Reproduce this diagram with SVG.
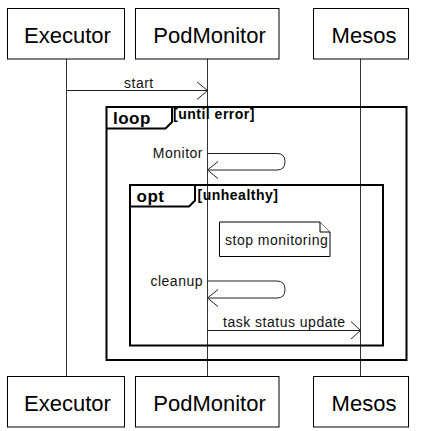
<svg xmlns="http://www.w3.org/2000/svg" width="432" height="431" viewBox="0 0 432 431">
<style>
.box{fill:#fff;stroke:#000;stroke-width:1}
.pname{font-family:"Liberation Sans",Arial,sans-serif;font-size:22px;fill:#000;text-anchor:middle}
.life{stroke:#333;stroke-width:1}
.msg{fill:none;stroke:#222;stroke-width:1}
.lbl{font-family:"Liberation Sans",Arial,sans-serif;font-size:14px;letter-spacing:0.5px;fill:#111}
.frame{fill:none;stroke:#000;stroke-width:2}
.tab{fill:#fff;stroke:#000;stroke-width:2}
.kw{font-family:"Liberation Sans",Arial,sans-serif;font-size:17px;font-weight:bold;letter-spacing:0.5px;fill:#000}
.guard{font-family:"Liberation Sans",Arial,sans-serif;font-size:14px;font-weight:bold;letter-spacing:0.5px;fill:#000}
</style>
<rect width="432" height="431" fill="#fff"/>
<g id="lifelines">
<line class="life" x1="66.5" y1="59" x2="66.5" y2="377"/>
<line class="life" x1="207.5" y1="59" x2="207.5" y2="377"/>
<line class="life" x1="360.5" y1="59" x2="360.5" y2="377"/>
</g>
<g id="loop-frame">
<rect class="frame" x="106.5" y="107" width="300" height="253"/>
<path class="frame" d="M106.5 128.5 H165.5 L172 122 V107"/>
<text class="kw" x="113" y="124">loop</text>
<text class="guard" x="173" y="119">[until error]</text>
</g>
<g id="opt-frame">
<rect class="frame" x="130" y="185" width="253" height="160.5"/>
<path class="frame" d="M130 206.5 H189 L195 200.5 V185"/>
<text class="kw" x="136.5" y="202">opt</text>
<text class="guard" x="197.5" y="199.5">[unhealthy]</text>
</g>
<g id="connectors">
<line class="msg" x1="66.5" y1="90.5" x2="207.5" y2="90.5"/>
<polyline class="msg" points="197,82 207.5,90.5 197,99.5"/>
<text class="lbl" x="124" y="88">start</text>
<path class="msg" d="M207.5 153.5 H277 Q285 153.5 285 161.5 Q285 170 277 170 H207.5"/>
<polyline class="msg" points="218,161.5 207.5,170 218,178.5"/>
<text class="lbl" x="203" y="158" text-anchor="end">Monitor</text>
<path class="msg" d="M207.5 281 H277 Q285 281 285 289.5 Q285 298 277 298 H207.5"/>
<polyline class="msg" points="218,289.5 207.5,298 218,306.5"/>
<text class="lbl" x="203" y="286" text-anchor="end">cleanup</text>
<line class="msg" x1="207.5" y1="330.5" x2="360.5" y2="330.5"/>
<polyline class="msg" points="351,321.5 360.5,330.5 351,339"/>
<text class="lbl" x="223" y="327">task status update</text>
</g>
<g id="note-stop-monitoring">
<path class="box" d="M219.5 222 H320 L330 232 V256.5 H219.5 Z"/>
<path class="box" d="M320 222 V232 H330" fill="none"/>
<text class="lbl" x="225" y="244.5">stop monitoring</text>
</g>
<g id="executor-top"><rect class="box" x="7.5" y="8.5" width="117" height="50.5"/><text class="pname" x="67.5" y="42.5">Executor</text></g>
<g id="podmonitor-top"><rect class="box" x="135.5" y="8.5" width="143.5" height="50.5"/><text class="pname" x="209.5" y="42.5">PodMonitor</text></g>
<g id="mesos-top"><rect class="box" x="313.5" y="8.5" width="95" height="50.5"/><text class="pname" x="364" y="42.5">Mesos</text></g>
<g id="executor-bottom"><rect class="box" x="7.5" y="376.5" width="117" height="50.5"/><text class="pname" x="67.5" y="410.5">Executor</text></g>
<g id="podmonitor-bottom"><rect class="box" x="135.5" y="376.5" width="143.5" height="50.5"/><text class="pname" x="209.5" y="410.5">PodMonitor</text></g>
<g id="mesos-bottom"><rect class="box" x="313.5" y="376.5" width="95" height="50.5"/><text class="pname" x="364" y="410.5">Mesos</text></g>
</svg>
